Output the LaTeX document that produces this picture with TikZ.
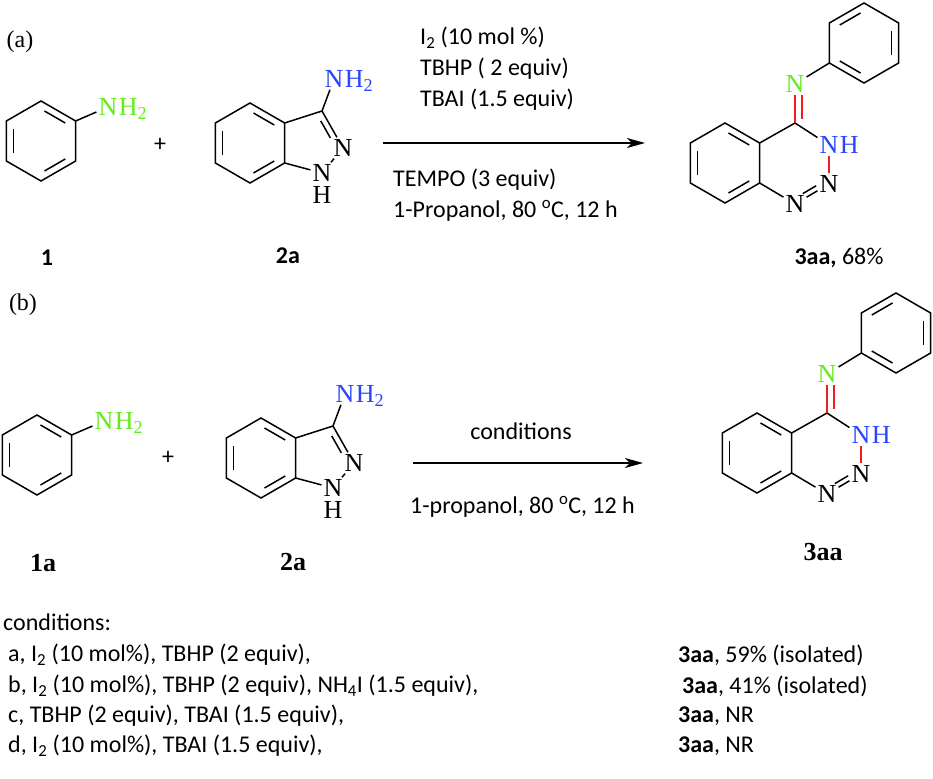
\documentclass[tikz,border=0pt]{standalone}
\usepackage{fontspec}
\setmainfont{Carlito}
\newfontfamily\atomfont{Liberation Serif}
\usetikzlibrary{%
  positioning
 ,calc
 ,arrows.meta
}
\definecolor{amgreen}{RGB}{100,235,30}
\definecolor{amblue}{RGB}{40,70,255}
\definecolor{bondred}{RGB}{240,30,30}
\tikzstyle{bond}=[line width=1.5pt]
\tikzstyle{atom}=[inner sep=2pt,font=\atomfont\fontsize{26}{26}\selectfont]
\tikzstyle{hyd}=[inner sep=0pt,font=\atomfont\fontsize{26}{26}\selectfont]
\tikzstyle{txt}=[inner sep=0pt,font=\fontsize{24}{31}\selectfont]
\tikzstyle{cpd}=[inner sep=0pt,font=\bfseries\fontsize{24}{24}\selectfont]
\tikzstyle{cpdser}=[inner sep=0pt,font=\atomfont\bfseries\fontsize{26}{26}\selectfont]
\tikzstyle{part}=[inner sep=0pt,font=\atomfont\fontsize{24}{24}\selectfont]
\tikzstyle{rxn}=[line width=1.3pt,-{Stealth[length=18pt,width=10pt,inset=5pt]}]

% hexagon: name, centre
\newcommand{\benz}[2]{%
  \coordinate (#1) at #2;
  \foreach \k/\ang in {1/270,2/330,3/30,4/90,5/150,6/210}
    \coordinate (#1-\k) at ($(#1)+(\ang:40)$);
  \draw[bond] (#1-1) -- (#1-2) -- (#1-3) -- (#1-4) -- (#1-5) -- (#1-6) -- cycle;
}
% inner line of a ring double bond
\newcommand{\ringdbl}[3]{%
  \draw[bond,shorten <=4pt,shorten >=4pt] ($(#1)!0.8!(#1-#2)$) -- ($(#1)!0.8!(#1-#3)$);
}
\newcommand{\aniline}[2]{%
  \benz{#1}{#2}
  \ringdbl{#1}{5}{6} \ringdbl{#1}{1}{2} \ringdbl{#1}{3}{4}
  \node[atom,text=amgreen] (#1n) at ($(#1)+(67,-34)$) {N};
  \node[hyd,text=amgreen,base right=-1pt of #1n] (#1h) {H\textsubscript{2}};
  \draw[bond] (#1-2) -- (#1n);
}
\newcommand{\indazole}[2]{%
  \benz{#1}{#2}
  \ringdbl{#1}{5}{6} \ringdbl{#1}{1}{2} \ringdbl{#1}{3}{4}
  \coordinate (#1c3) at ($(#1)+(72,-32)$);
  \node[atom] (#1n2) at ($(#1)+(93,5)$) {N};
  \node[atom] (#1n1) at ($(#1)+(72,30)$) {N};
  \node[hyd,below=3pt of #1n1] (#1h1) {H};
  \node[atom,text=amblue] (#1n) at ($(#1)+(84,-64)$) {N};
  \node[hyd,text=amblue,base right=-1pt of #1n] (#1h) {H\textsubscript{2}};
  \draw[bond] (#1-2) -- (#1c3) -- (#1n2) -- (#1n1) -- (#1-3);
  \draw[bond] (#1c3) -- (#1n);
  \draw[bond,shorten <=8pt,shorten >=15pt] ($(#1c3)!6pt!-90:(#1n2)$) -- ($(#1n2)!6pt!90:(#1c3)$);
}
\newcommand{\triazine}[2]{%
  \benz{#1}{#2}
  \ringdbl{#1}{5}{6} \ringdbl{#1}{1}{2} \ringdbl{#1}{3}{4}
  \coordinate (#1c4) at ($(#1)+(70,-40)$);
  \node[atom,text=amblue] (#1n3) at ($(#1)+(104,-18)$) {N};
  \node[hyd,text=amblue,base right=-1pt of #1n3] (#1h3) {H};
  \node[atom] (#1n2) at ($(#1)+(104,21)$) {N};
  \node[atom] (#1n1) at ($(#1)+(70,41)$) {N};
  \node[atom,text=amgreen] (#1nx) at ($(#1)+(70,-79)$) {N};
  \benz{#1p}{($(#1)+(139,-120)$)}
  \ringdbl{#1p}{6}{1} \ringdbl{#1p}{2}{3} \ringdbl{#1p}{4}{5}
  \draw[bond] (#1-2) -- (#1c4) -- (#1n3);
  \draw[bond,bondred] (#1n3) -- (#1n2);
  \draw[bond] (#1n2) -- (#1n1) -- (#1-3);
  \draw[bond] (#1nx) -- (#1p-5);
  \draw[bond,bondred] (#1c4) -- (#1nx);
  \draw[bond,bondred,shorten <=4pt,shorten >=11pt] ($(#1c4)!7pt!-90:(#1nx)$) -- ($(#1nx)!7pt!90:(#1c4)$);
  \draw[bond,shorten <=12pt,shorten >=12pt] ($(#1n1)!5pt!90:(#1n2)$) -- ($(#1n2)!5pt!-90:(#1n1)$);
}

\begin{document}
\begin{tikzpicture}[x=1pt,y=-1pt]
  \useasboundingbox (0,0) rectangle (933,778);
  % (a)
  \node[part] (p_a) at (20,42) {(a)};
  \aniline{a1}{(41,141)}
  \node[txt] (plus_a) at (160,145) {+};
  \indazole{a2}{(250,143)}
  \coordinate (r_a0) at (383,143);
  \coordinate (r_a1) at (645,143);
  \draw[rxn] (r_a0) -- (r_a1);
  \node[txt,anchor=west,align=left] (c_a1) at (420,69)
    {I\textsubscript{2} (10 mol \%)\\TBHP ( 2 equiv)\\TBAI (1.5 equiv)};
  \node[txt,anchor=west,align=left] (c_a2) at (393,195)
    {TEMPO (3 equiv)\\1-Propanol, 80 \textsuperscript{o}C, 12 h};
  \triazine{a3}{(725,163)}
  \node[cpd] (l_1) at (47,258) {1};
  \node[cpd] (l_2a) at (288,256) {2a};
  \node[txt] (l_3aa) at (839,258) {\textbf{3aa,} 68\%};
  % (b)
  \node[part] (p_b) at (23,305) {(b)};
  \aniline{b1}{(37,455)}
  \node[txt] (plus_b) at (168,458) {+};
  \indazole{b2}{(261,458)}
  \coordinate (r_b0) at (413,463);
  \coordinate (r_b1) at (643,463);
  \draw[rxn] (r_b0) -- (r_b1);
  \node[txt] (c_b1) at (521,431) {conditions};
  \node[txt,anchor=west] (c_b2) at (410,507) {1-propanol, 80 \textsuperscript{o}C, 12 h};
  \triazine{b3}{(757,453)}
  \node[cpdser] (l_1a) at (43,563) {1a};
  \node[cpdser] (l_2b) at (293,562) {2a};
  \node[cpdser] (l_3b) at (823,552) {3aa};
  % conditions list
  \node[txt,anchor=west] (t_0) at (3,622) {conditions:};
  \node[txt,anchor=west] (t_a) at (8,655) {a, I\textsubscript{2} (10 mol\%), TBHP (2 equiv),};
  \node[txt,anchor=west] (t_b) at (8,686) {b, I\textsubscript{2} (10 mol\%), TBHP (2 equiv), NH\textsubscript{4}I (1.5 equiv),};
  \node[txt,anchor=west] (t_c) at (8,716) {c, TBHP (2 equiv), TBAI (1.5 equiv),};
  \node[txt,anchor=west] (t_d) at (8,746) {d, I\textsubscript{2} (10 mol\%), TBAI (1.5 equiv),};
  \node[txt,anchor=west] (y_a) at (678,655) {\textbf{3aa}, 59\% (isolated)};
  \node[txt,anchor=west] (y_b) at (682,686) {\textbf{3aa}, 41\% (isolated)};
  \node[txt,anchor=west] (y_c) at (678,716) {\textbf{3aa}, NR};
  \node[txt,anchor=west] (y_d) at (678,746) {\textbf{3aa}, NR};
\end{tikzpicture}
\end{document}
